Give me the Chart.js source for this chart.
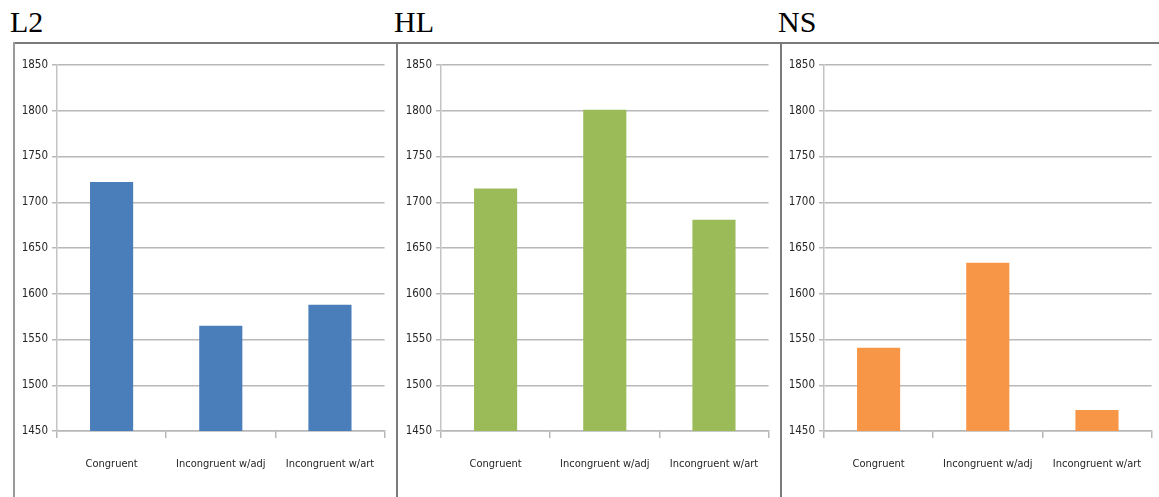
<!DOCTYPE html>
<html>
<head>
<meta charset="utf-8">
<script src="https://cdn.jsdelivr.net/npm/chart.js@4.4.1/dist/chart.umd.min.js"></script>
<style>
  body { margin: 0; background: #fff; width: 1159px; height: 497px; overflow: hidden; position: relative; }
  .title { position: absolute; top: 7px; font-family: "Liberation Serif", "Times New Roman", serif; font-size: 30px; line-height: 30px; color: #000; }
  .topline { position: absolute; left: 13px; top: 42px; width: 1146px; height: 2px; background: #7a7a7a; }
  .vline { position: absolute; top: 42px; width: 1.5px; height: 455px; background: #7a7a7a; }
  canvas { position: absolute; top: 44px; }
</style>
</head>
<body>
<div class="topline"></div>
<div class="vline" style="left:13px;background:#9a9a9a"></div>
<div class="vline" style="left:396px"></div>
<div class="vline" style="left:780px"></div>

<div class="title" style="left:10px">L2</div>
<div class="title" style="left:394px">HL</div>
<div class="title" style="left:778px">NS</div>

<canvas id="c0" width="382" height="453" style="left:14px"></canvas>
<canvas id="c1" width="382" height="453" style="left:398px"></canvas>
<canvas id="c2" width="382" height="453" style="left:781px"></canvas>

<script>
const categories = ["Congruent", "Incongruent w/adj", "Incongruent w/art"];
const l2Values = [1722, 1565, 1588];
const hlValues = [1715, 1801, 1681];
const nsValues = [1541, 1634, 1473];
const seriesNames = ["L2", "HL", "NS"];
const seriesColors = ["#4a7ebb", "#9bbb59", "#f79646"];
const yMin = 1450;
const yMax = 1850;
const yStep = 50;

const gridColor = "#b8b8b8";
const narrow = "'Liberation Sans Narrow', 'DejaVu Sans Condensed', sans-serif";

function makePanel(id, name, values, color) {
  new Chart(document.getElementById(id), {
    type: "bar",
    data: {
      labels: categories,
      datasets: [{
        label: name,
        data: values,
        backgroundColor: color,
        barPercentage: 0.395,
        categoryPercentage: 1.0
      }]
    },
    options: {
      responsive: false,
      animation: false,
      layout: { padding: { top: 21, right: 11, left: 0, bottom: 0 } },
      plugins: { legend: { display: false }, tooltip: { enabled: false } },
      scales: {
        x: {
          grid: { drawOnChartArea: false, tickLength: 7, color: gridColor, lineWidth: 1.5 },
          border: { display: true, color: gridColor, width: 1.5 },
          ticks: { color: "#262626", font: { family: narrow, size: 11 }, padding: 20, maxRotation: 0 },
          afterFit: (s) => { s.height = 66; }
        },
        y: {
          min: yMin,
          max: yMax,
          ticks: { stepSize: yStep, color: "#262626", font: { family: narrow, size: 11.5 }, padding: 4, callback: (v) => String(v) },
          grid: { color: gridColor, lineWidth: 1.5, tickLength: 5 },
          border: { display: true, color: "#c4c4c4", width: 1.5 },
          afterFit: (s) => { s.width = 43; }
        }
      }
    }
  });
}

makePanel("c0", seriesNames[0], l2Values, seriesColors[0]);
makePanel("c1", seriesNames[1], hlValues, seriesColors[1]);
makePanel("c2", seriesNames[2], nsValues, seriesColors[2]);
</script>
</body>
</html>
